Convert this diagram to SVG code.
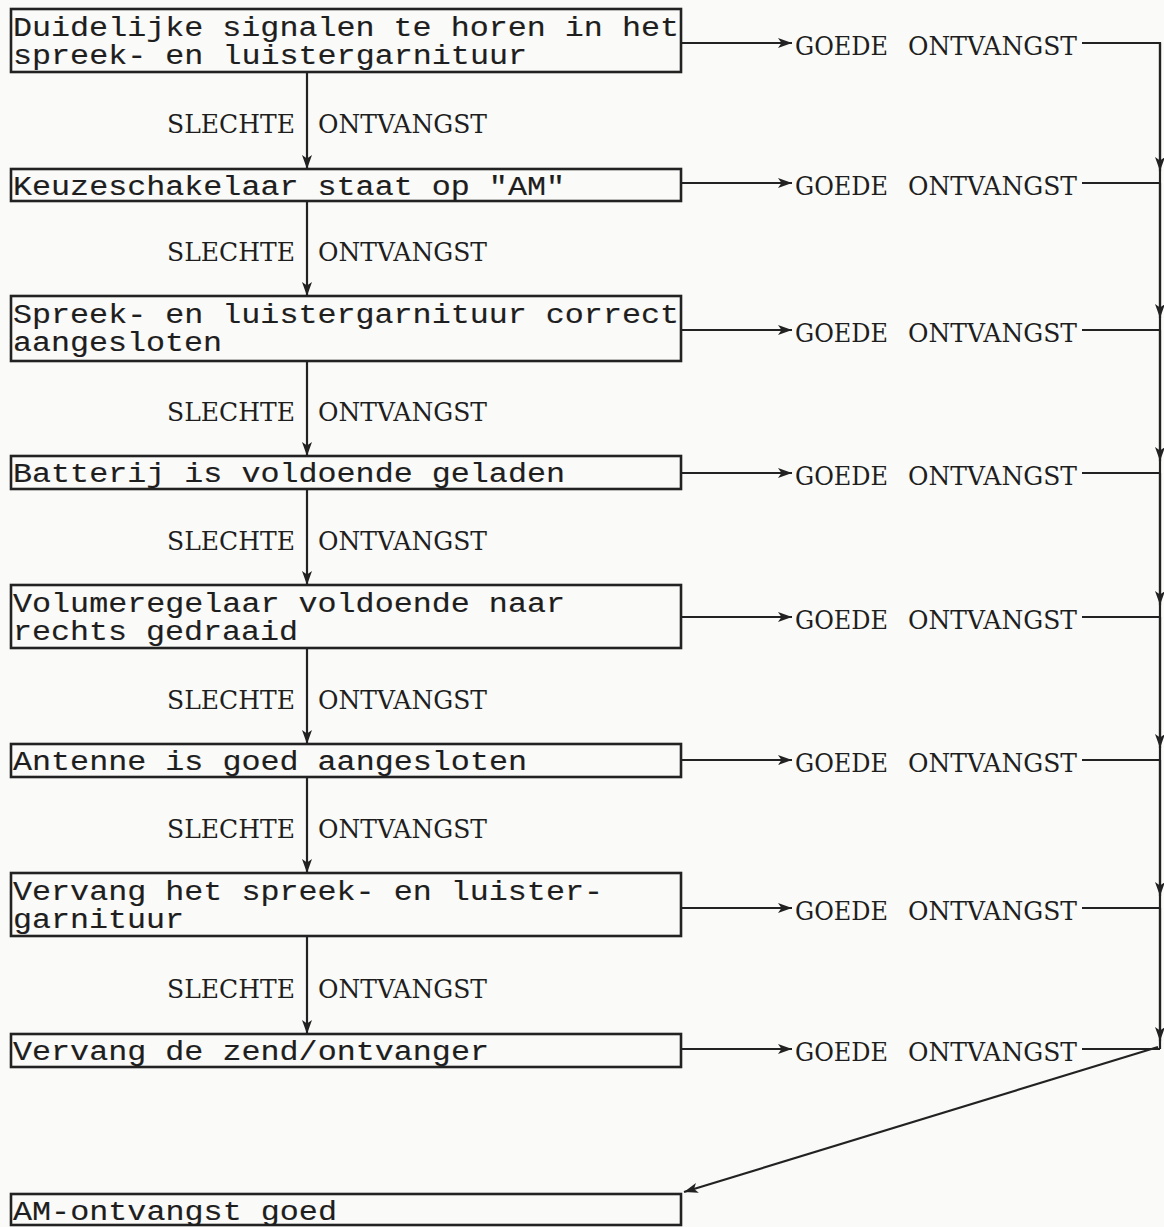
<svg xmlns="http://www.w3.org/2000/svg" width="1164" height="1227" viewBox="0 0 1164 1227">
<style>
.box{fill:none;stroke:#222;stroke-width:2.6}
.bt{font-family:"Liberation Mono",monospace;font-size:27px;fill:#1e1e1e;stroke:#1e1e1e;stroke-width:0.15}
.lbl{font-family:"DejaVu Serif","Liberation Serif",serif;font-size:26.5px;fill:#1e1e1e}
.c{stroke:#222;stroke-width:2.2;fill:none}
.a{stroke:#222;stroke-width:2.2;fill:none;marker-end:url(#ah)}
</style>
<defs>
<marker id="ah" markerUnits="userSpaceOnUse" markerWidth="15" markerHeight="11" refX="14" refY="5.5" orient="auto">
<path d="M0,0.5 L14,5.5 L0,10.5 L3.5,5.5 Z" fill="#222"/>
</marker>
</defs>
<rect width="1164" height="1227" fill="#fafaf8"/>

<g id="n1"><rect class="box" x="11" y="9" width="670" height="63"/><text class="bt" x="13" y="36" textLength="666" lengthAdjust="spacingAndGlyphs">Duidelijke signalen te horen in het</text><text class="bt" x="13" y="64" textLength="514" lengthAdjust="spacingAndGlyphs">spreek- en luistergarnituur</text></g>
<g id="n2"><rect class="box" x="11" y="169" width="670" height="32"/><text class="bt" x="13" y="195" textLength="552" lengthAdjust="spacingAndGlyphs">Keuzeschakelaar staat op "AM"</text></g>
<g id="n3"><rect class="box" x="11" y="296" width="670" height="65"/><text class="bt" x="13" y="323" textLength="666" lengthAdjust="spacingAndGlyphs">Spreek- en luistergarnituur correct</text><text class="bt" x="13" y="351" textLength="209" lengthAdjust="spacingAndGlyphs">aangesloten</text></g>
<g id="n4"><rect class="box" x="11" y="456" width="670" height="33"/><text class="bt" x="13" y="482" textLength="552" lengthAdjust="spacingAndGlyphs">Batterij is voldoende geladen</text></g>
<g id="n5"><rect class="box" x="11" y="585" width="670" height="63"/><text class="bt" x="13" y="612" textLength="552" lengthAdjust="spacingAndGlyphs">Volumeregelaar voldoende naar</text><text class="bt" x="13" y="640" textLength="285" lengthAdjust="spacingAndGlyphs">rechts gedraaid</text></g>
<g id="n6"><rect class="box" x="11" y="744" width="670" height="33"/><text class="bt" x="13" y="770" textLength="514" lengthAdjust="spacingAndGlyphs">Antenne is goed aangesloten</text></g>
<g id="n7"><rect class="box" x="11" y="873" width="670" height="63"/><text class="bt" x="13" y="900" textLength="590" lengthAdjust="spacingAndGlyphs">Vervang het spreek- en luister-</text><text class="bt" x="13" y="928" textLength="171" lengthAdjust="spacingAndGlyphs">garnituur</text></g>
<g id="n8"><rect class="box" x="11" y="1034" width="670" height="33"/><text class="bt" x="13" y="1060" textLength="476" lengthAdjust="spacingAndGlyphs">Vervang de zend/ontvanger</text></g>
<g id="n9"><rect class="box" x="11" y="1194" width="670" height="31"/><text class="bt" x="13" y="1220" textLength="324" lengthAdjust="spacingAndGlyphs">AM-ontvangst goed</text></g>

<g id="connectors">
<line class="a" x1="307" y1="72" x2="307" y2="169"/>
<line class="a" x1="307" y1="201" x2="307" y2="296"/>
<line class="a" x1="307" y1="361" x2="307" y2="456"/>
<line class="a" x1="307" y1="489" x2="307" y2="585"/>
<line class="a" x1="307" y1="648" x2="307" y2="744"/>
<line class="a" x1="307" y1="777" x2="307" y2="873"/>
<line class="a" x1="307" y1="936" x2="307" y2="1034"/>

<line class="a" x1="681" y1="43" x2="792" y2="43"/>
<line class="a" x1="681" y1="183" x2="792" y2="183"/>
<line class="a" x1="681" y1="330" x2="792" y2="330"/>
<line class="a" x1="681" y1="473" x2="792" y2="473"/>
<line class="a" x1="681" y1="617" x2="792" y2="617"/>
<line class="a" x1="681" y1="760" x2="792" y2="760"/>
<line class="a" x1="681" y1="908" x2="792" y2="908"/>
<line class="a" x1="681" y1="1049" x2="792" y2="1049"/>

<line class="c" x1="1082" y1="43" x2="1160" y2="43"/>
<line class="c" x1="1082" y1="183" x2="1160" y2="183"/>
<line class="c" x1="1082" y1="330" x2="1160" y2="330"/>
<line class="c" x1="1082" y1="473" x2="1160" y2="473"/>
<line class="c" x1="1082" y1="617" x2="1160" y2="617"/>
<line class="c" x1="1082" y1="760" x2="1160" y2="760"/>
<line class="c" x1="1082" y1="908" x2="1160" y2="908"/>
<line class="c" x1="1082" y1="1049" x2="1160" y2="1049"/>

<line class="c" x1="1160" y1="42" x2="1160" y2="1049"/>
<line class="a" x1="1160" y1="43" x2="1160" y2="171"/>
<line class="a" x1="1160" y1="183" x2="1160" y2="318"/>
<line class="a" x1="1160" y1="330" x2="1160" y2="461"/>
<line class="a" x1="1160" y1="473" x2="1160" y2="605"/>
<line class="a" x1="1160" y1="617" x2="1160" y2="748"/>
<line class="a" x1="1160" y1="760" x2="1160" y2="896"/>
<line class="a" x1="1160" y1="908" x2="1160" y2="1041"/>

<line class="a" x1="1158" y1="1047" x2="684" y2="1192"/>

<text class="lbl" x="167" y="133" textLength="128" lengthAdjust="spacingAndGlyphs">SLECHTE</text><text class="lbl" x="318" y="133" textLength="169" lengthAdjust="spacingAndGlyphs">ONTVANGST</text>
<text class="lbl" x="167" y="261" textLength="128" lengthAdjust="spacingAndGlyphs">SLECHTE</text><text class="lbl" x="318" y="261" textLength="169" lengthAdjust="spacingAndGlyphs">ONTVANGST</text>
<text class="lbl" x="167" y="421" textLength="128" lengthAdjust="spacingAndGlyphs">SLECHTE</text><text class="lbl" x="318" y="421" textLength="169" lengthAdjust="spacingAndGlyphs">ONTVANGST</text>
<text class="lbl" x="167" y="550" textLength="128" lengthAdjust="spacingAndGlyphs">SLECHTE</text><text class="lbl" x="318" y="550" textLength="169" lengthAdjust="spacingAndGlyphs">ONTVANGST</text>
<text class="lbl" x="167" y="709" textLength="128" lengthAdjust="spacingAndGlyphs">SLECHTE</text><text class="lbl" x="318" y="709" textLength="169" lengthAdjust="spacingAndGlyphs">ONTVANGST</text>
<text class="lbl" x="167" y="838" textLength="128" lengthAdjust="spacingAndGlyphs">SLECHTE</text><text class="lbl" x="318" y="838" textLength="169" lengthAdjust="spacingAndGlyphs">ONTVANGST</text>
<text class="lbl" x="167" y="998" textLength="128" lengthAdjust="spacingAndGlyphs">SLECHTE</text><text class="lbl" x="318" y="998" textLength="169" lengthAdjust="spacingAndGlyphs">ONTVANGST</text>

<text class="lbl" x="795" y="55" textLength="93" lengthAdjust="spacingAndGlyphs">GOEDE</text><text class="lbl" x="908" y="55" textLength="169" lengthAdjust="spacingAndGlyphs">ONTVANGST</text>
<text class="lbl" x="795" y="195" textLength="93" lengthAdjust="spacingAndGlyphs">GOEDE</text><text class="lbl" x="908" y="195" textLength="169" lengthAdjust="spacingAndGlyphs">ONTVANGST</text>
<text class="lbl" x="795" y="342" textLength="93" lengthAdjust="spacingAndGlyphs">GOEDE</text><text class="lbl" x="908" y="342" textLength="169" lengthAdjust="spacingAndGlyphs">ONTVANGST</text>
<text class="lbl" x="795" y="485" textLength="93" lengthAdjust="spacingAndGlyphs">GOEDE</text><text class="lbl" x="908" y="485" textLength="169" lengthAdjust="spacingAndGlyphs">ONTVANGST</text>
<text class="lbl" x="795" y="629" textLength="93" lengthAdjust="spacingAndGlyphs">GOEDE</text><text class="lbl" x="908" y="629" textLength="169" lengthAdjust="spacingAndGlyphs">ONTVANGST</text>
<text class="lbl" x="795" y="772" textLength="93" lengthAdjust="spacingAndGlyphs">GOEDE</text><text class="lbl" x="908" y="772" textLength="169" lengthAdjust="spacingAndGlyphs">ONTVANGST</text>
<text class="lbl" x="795" y="920" textLength="93" lengthAdjust="spacingAndGlyphs">GOEDE</text><text class="lbl" x="908" y="920" textLength="169" lengthAdjust="spacingAndGlyphs">ONTVANGST</text>
<text class="lbl" x="795" y="1061" textLength="93" lengthAdjust="spacingAndGlyphs">GOEDE</text><text class="lbl" x="908" y="1061" textLength="169" lengthAdjust="spacingAndGlyphs">ONTVANGST</text>
</g>
</svg>
